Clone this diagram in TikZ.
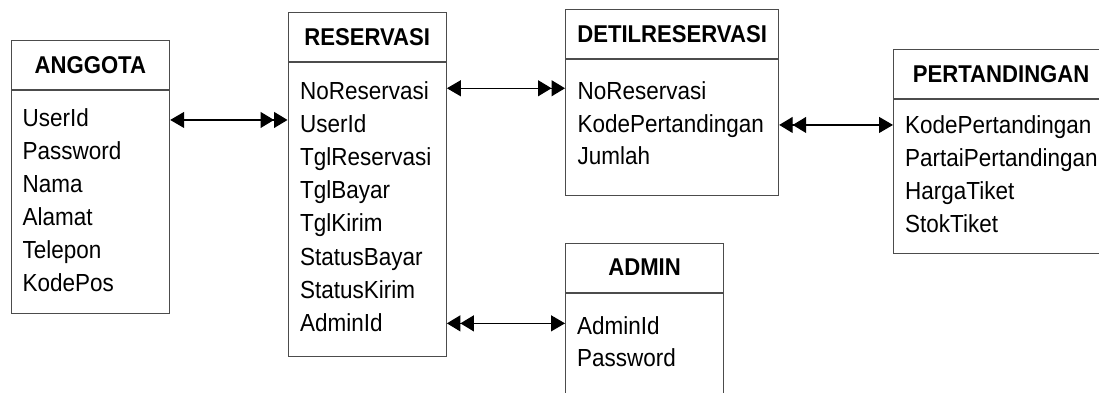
\documentclass[tikz,border=0pt]{standalone}
\usepackage{fontspec}
\setmainfont[FakeStretch = 0.91]{Liberation Sans}
\usetikzlibrary{arrows.meta, calc}

\tikzset{
    tabhead/.style = {draw = black!70, line width = 1.2pt, minimum height = 49pt, inner sep = 0pt, anchor = north west, font = \bfseries\fontsize{24.3}{28}\selectfont},
    tabbody/.style = {draw = black!70, line width = 1.2pt, inner sep = 0pt, anchor = north west},
    field/.style = {anchor = base west, inner sep = 0pt, text height = 17.7pt, text depth = 0pt, font = \fontsize{24.7}{29}\selectfont},
    onemany/.style = {black, line width = 1.2pt, {Triangle[length = 14pt, width = 16pt]}-{Triangle[length = 13.5pt, width = 16pt, sep = 0pt] Triangle[length = 13.5pt, width = 16pt]}}
}

\begin{document}
\begin{tikzpicture}[x = 1pt, y = -1pt]
    \useasboundingbox (0, 0) rectangle (1099, 392);

    % ANGGOTA
    \node[tabhead, minimum width = 158.5pt] (ang-h) at (10.5, 40) {ANGGOTA};
    \node[tabbody, minimum width = 158.5pt, minimum height = 223pt] (ang) at (ang-h.south west) {};
    \foreach \f [count = \i from 0] in {UserId, Password, Nama, Alamat, Telepon, KodePos}
        \node[field] (ang-\i) at (22.5, {126.5 + 32.9*\i}) {\f};

    % RESERVASI
    \node[tabhead, minimum width = 158.2pt] (res-h) at (287.5, 12) {RESERVASI};
    \node[tabbody, minimum width = 158.2pt, minimum height = 294pt] (res) at (res-h.south west) {};
    \foreach \f [count = \i from 0] in {NoReservasi, UserId, TglReservasi, TglBayar, TglKirim, StatusBayar, StatusKirim, AdminId}
        \node[field] (res-\i) at (300, {99 + 33.2*\i}) {\f};

    % DETILRESERVASI
    \node[tabhead, minimum width = 213pt] (det-h) at (565, 9) {DETILRESERVASI};
    \node[tabbody, minimum width = 213pt, minimum height = 136pt] (det) at (det-h.south west) {};
    \foreach \f [count = \i from 0] in {NoReservasi, KodePertandingan, Jumlah}
        \node[field] (det-\i) at (577.5, {99.5 + 32.7*\i}) {\f};

    % ADMIN
    \node[tabhead, minimum width = 158pt] (adm-h) at (565, 242.5) {ADMIN};
    \node[tabbody, minimum width = 158pt, minimum height = 110pt] (adm) at (adm-h.south west) {};
    \foreach \f [count = \i from 0] in {AdminId, Password}
        \node[field] (adm-\i) at (577, {334.5 + 31.8*\i}) {\f};

    % PERTANDINGAN
    \node[tabhead, minimum width = 215pt] (per-h) at (893, 49) {PERTANDINGAN};
    \node[tabbody, minimum width = 215pt, minimum height = 154pt] (per) at (per-h.south west) {};
    \foreach \f [count = \i from 0] in {KodePertandingan, PartaiPertandingan, HargaTiket, StokTiket}
        \node[field] (per-\i) at (905, {133.3 + 33.1*\i}) {\f};

    % relasi
    \draw[onemany] ([yshift = -2.3pt]ang.east |- ang-0) -- ([yshift = -2.3pt]res.west |- ang-0);
    \draw[onemany] ([yshift = 1.9pt]res.east |- res-0) -- ([yshift = 1.9pt]det.west |- res-0);
    \draw[onemany] ([yshift = -1.6pt]per.west |- det-1) -- ([yshift = -1.6pt]det.east |- det-1);
    \draw[onemany] ([yshift = -0.8pt]adm.west |- res-7) -- ([yshift = -0.8pt]res.east |- res-7);
\end{tikzpicture}
\end{document}
